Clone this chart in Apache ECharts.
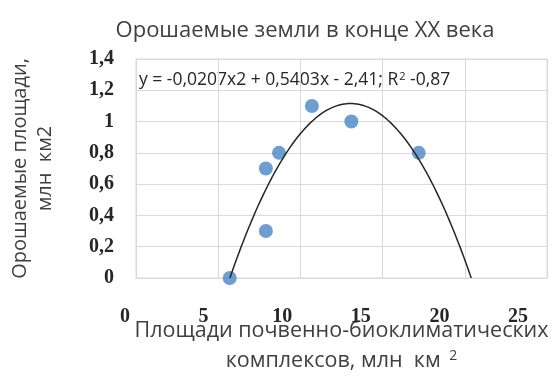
<!DOCTYPE html>
<html>
<head>
<meta charset="utf-8">
<script src="https://cdn.jsdelivr.net/npm/echarts@6/dist/echarts.min.js"></script>
<style>
  html, body { margin: 0; padding: 0; background: #fff; }
  #chart { width: 560px; height: 378px; }
</style>
</head>
<body>
<div id="chart"></div>
<script>
// Irrigated land vs. area of soil-bioclimatic complexes (million km²)
const complexArea = [5.7, 7.9, 7.9, 8.7, 10.7, 13.1, 17.2];
const irrigatedArea = [0, 0.3, 0.7, 0.8, 1.1, 1.0, 0.8];

// Polynomial trend y = a·x² + b·x + c, as given in the equation label
const trendCoef = [-0.0207, 0.5403, -2.41];
const trendLabel = 'y = -0,0207x2 + 0,5403x - 2,41; R';
const trendR2 = ' -0,87';

const xTicks = [0, 5, 10, 15, 20, 25];
const yTicks = [0, 0.2, 0.4, 0.6, 0.8, 1, 1.2, 1.4];

const [a, b, c] = trendCoef;
const disc = Math.sqrt(b * b - 4 * a * c);
const root1 = (-b + disc) / (2 * a);
const root2 = (-b - disc) / (2 * a);
const xLo = Math.min(root1, root2), xHi = Math.max(root1, root2);
const trendPts = [];
const steps = 120;
for (let i = 0; i <= steps; i++) {
  const x = xLo + (xHi - xLo) * i / steps;
  trendPts.push([x, Math.max(0, a * x * x + b * x + c)]);
}

const fmtComma = v => String(v).replace('.', ',');
const textDark = '#262626';
const gridGrey = '#d9d9d9';

const chart = echarts.init(document.getElementById('chart'), null, { renderer: 'canvas' });
chart.setOption({
  animation: false,
  backgroundColor: '#ffffff',
  title: {
    text: 'Орошаемые земли в конце XX века',
    left: 300, top: 15, textAlign: 'center',
    textStyle: { fontFamily: 'Open Sans', fontSize: 22, fontWeight: 'normal', color: '#404040' }
  },
  grid: [
    { left: 133, right: 13, top: 59, bottom: 94, show: true, borderColor: gridGrey, borderWidth: 1 },
    { left: 125, right: 42, top: 59, bottom: 94, show: false }
  ],
  xAxis: [
    {
      type: 'value', gridIndex: 0, min: xTicks[0], max: xTicks[xTicks.length - 1], interval: 5,
      axisLine: { show: true, lineStyle: { color: gridGrey } },
      axisTick: { show: false },
      axisLabel: { show: false },
      splitLine: { show: true, lineStyle: { color: gridGrey, width: 1 } },
      name: '{t|Площади почвенно-биоклиматических}\n{t|комплексов, млн  км }{s|2}',
      nameLocation: 'middle', nameGap: 38,
      nameTextStyle: {
        rich: {
          t: { fontFamily: 'Open Sans', fontSize: 21.5, color: '#404040', lineHeight: 30 },
          s: { fontFamily: 'Open Sans', fontSize: 14, color: '#404040', lineHeight: 30, padding: [0, 0, 10, 3] }
        }
      }
    },
    {
      type: 'value', gridIndex: 1, min: xTicks[0], max: xTicks[xTicks.length - 1], interval: 5,
      axisLine: { show: false }, axisTick: { show: false }, splitLine: { show: false },
      axisLabel: {
        show: true, margin: 23,
        fontFamily: 'Liberation Serif', fontWeight: 'bold', fontSize: 20, color: textDark
      }
    }
  ],
  yAxis: [
    {
      type: 'value', gridIndex: 0, min: yTicks[0], max: yTicks[yTicks.length - 1], interval: 0.2,
      axisLine: { show: false }, axisTick: { show: false },
      splitLine: { show: true, lineStyle: { color: gridGrey, width: 1 } },
      axisLabel: {
        margin: 22, formatter: v => fmtComma(Math.round(v * 10) / 10),
        fontFamily: 'Liberation Serif', fontWeight: 'bold', fontSize: 20, color: textDark
      },
      name: 'Орошаемые площади,\nмлн  км2',
      nameLocation: 'middle', nameRotate: 90, nameGap: 78,
      nameTextStyle: { fontFamily: 'Open Sans', fontSize: 20, color: '#404040', lineHeight: 25 }
    },
    {
      type: 'value', gridIndex: 1, min: 0, max: 1.4, show: false
    }
  ],
  graphic: [
    {
      type: 'text', left: 139, top: 71,
      style: {
        text: '{e|' + trendLabel + '}{s|2}{e|' + trendR2 + '}',
        rich: {
          e: { fontFamily: 'Open Sans', fontSize: 17.5, fill: textDark, lineHeight: 24 },
          s: { fontFamily: 'Open Sans', fontSize: 11, fill: textDark, lineHeight: 24, padding: [0, 0, 8, 1] }
        }
      }
    }
  ],
  series: [
    {
      type: 'line', xAxisIndex: 0, yAxisIndex: 0,
      data: trendPts, showSymbol: false, smooth: false,
      lineStyle: { color: '#262626', width: 1.5 },
      z: 3
    },
    {
      type: 'scatter', xAxisIndex: 0, yAxisIndex: 0,
      data: complexArea.map((x, i) => [x, irrigatedArea[i]]),
      symbol: 'circle', symbolSize: 14,
      itemStyle: { color: '#4a84c4' },
      z: 2
    }
  ]
});
</script>
</body>
</html>
